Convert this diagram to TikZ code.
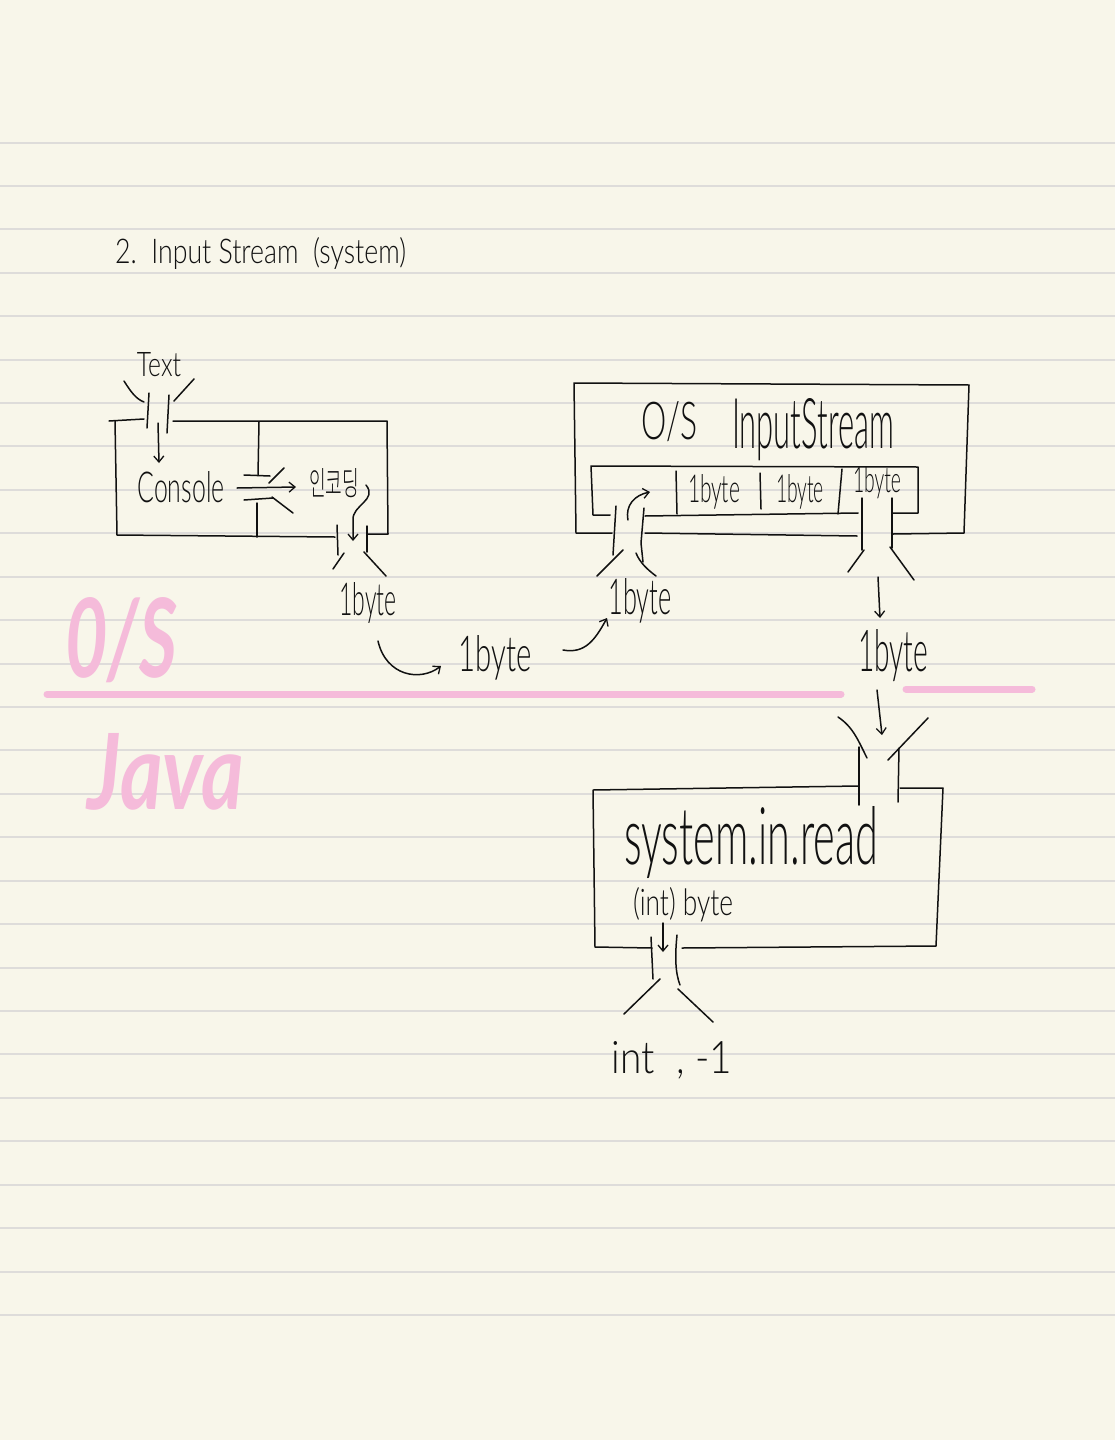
\documentclass[tikz,border=0pt]{standalone}
\usepackage{fontspec}
\usepackage{graphicx}
\usetikzlibrary{arrows.meta}
\setmainfont{Lato Light}
\newfontfamily\cjkfont{Noto Sans CJK KR}[UprightFont={* Light}]
\newfontfamily\pinkfont{Lato}[ItalicFont={Lato Bold Italic}]
\definecolor{paper}{HTML}{F8F6EA}
\definecolor{ruleline}{HTML}{DEDCDA}
\definecolor{marker}{HTML}{F5BBDA}
\definecolor{ink}{HTML}{111111}
\tikzset{
  pen/.style={draw=ink,line width=1.5pt,line cap=round,line join=round},
  arrowpen/.style={pen,-{Straight Barb[length=6pt,width=10pt,line width=1.3pt]}},
  markerline/.style={draw=marker,line width=7pt,line cap=round},
  handtext/.style={inner sep=0pt,outer sep=0pt,text=ink},
  pinktext/.style={inner sep=0pt,outer sep=0pt,text=marker}
}
\newcommand{\fitted}[3]{\resizebox{#1pt}{#2pt}{#3}}
\begin{document}
\begin{tikzpicture}[x=1pt,y=-1pt]
\useasboundingbox (0,0) rectangle (1115,1440);
\fill[paper] (0,0) rectangle (1115,1440);
\foreach \ry in {143,186,229,273,316,360,403,446,490,533,577,620,664,707,750,794,837,881,924,968,1011,1054,1098,1141,1185,1228,1272,1315}
  \draw[ruleline,line width=2pt] (0,\ry) -- (1115,\ry);

% marker
\draw[markerline] (47,694) -- (841,694);
\draw[markerline] (906,689) -- (1032,689);
\node[pinktext] (oslabel) at (121,640) {\fitted{112}{80}{\pinkfont\itshape 0/S}};
\node[pinktext] (javalabel) at (166,772) {\fitted{156}{76}{\pinkfont\itshape Java}};

% title
\node[handtext,anchor=west] (title) at (115,253) {\fitted{291}{26}{2.\ \ Input Stream\ \ (system)}};

% left box
\draw[pen] (109,421) -- (144,419);
\draw[pen] (115,421) -- (117,535) -- (335,537);
\draw[pen] (367,534) -- (388,534) -- (387,421) -- (173,421);
\draw[pen] (259,422) -- (258,475);
\draw[pen] (257,503) -- (257,537);
\draw[pen] (149,393) -- (147,428);
\draw[pen] (169,395) -- (167,433);
\draw[pen] (124,381) .. controls (131,392) and (136,399) .. (144,402);
\draw[pen] (194,379) -- (174,401);
\draw[pen] (244,475) -- (270,476);
\draw[pen] (284,468) -- (269,483);
\draw[pen] (244,500) -- (273,498);
\draw[pen] (272,497) -- (293,513);
\draw[pen] (337,525) -- (338,555);
\draw[pen] (367,526) -- (367,552);
\draw[pen] (344,553) -- (333,569);
\draw[pen] (364,552) -- (386,576);

\node[handtext] (text) at (159,365) {\fitted{44}{24}{Text}};
\node[handtext] (console) at (181,487) {\fitted{87}{31}{Console}};
\node[handtext] (encoding) at (334,483) {\fitted{50}{27}{\cjkfont 인코딩}};
\node[handtext] (byteA) at (368,603) {\fitted{57}{33}{1byte}};

\coordinate (consoleIn) at (158,423);
\coordinate (consoleTop) at (159,463);
\draw[arrowpen] (consoleIn) -- (consoleTop);
\coordinate (gateFrom) at (237,488);
\coordinate (gateTo) at (296,487);
\draw[arrowpen] (gateFrom) -- (gateTo);
\coordinate (encOut) at (366,485);
\coordinate (funnelMid) at (353,541);
\draw[arrowpen] (encOut) .. controls (378,500) and (352,505) .. (353,520) -- (funnelMid);

% transfer
\node[handtext] (byteB) at (495,658) {\fitted{73}{36}{1byte}};
\node[handtext] (byteC) at (640,601) {\fitted{63}{36}{1byte}};
\coordinate (curveA) at (378,641);
\coordinate (curveAend) at (441,666);
\draw[arrowpen] (curveA) .. controls (386,676) and (420,682) .. (curveAend);
\coordinate (curveB) at (563,650);
\coordinate (curveBend) at (607,618);
\draw[arrowpen] (curveB) .. controls (585,654) and (595,640) .. (curveBend);

% right box
\draw[pen] (612,533) -- (576,533) -- (574,383) -- (969,385) -- (964,533) -- (893,534);
\draw[pen] (645,533) -- (857,536);
\draw[pen] (610,515) -- (593,515) -- (591,466) -- (918,467) -- (918,513) -- (893,513);
\draw[pen] (645,516) -- (858,513);
\draw[pen] (676,471) -- (677,514);
\draw[pen] (760,473) -- (761,509);
\draw[pen] (842,469) -- (838,514);
\draw[pen] (616,506) -- (613,555);
\draw[pen] (644,508) -- (641,543) -- (643,562);
\draw[pen] (623,550) -- (597,576);
\draw[pen] (636,553) .. controls (640,563) and (648,570) .. (656,576);
\draw[pen] (862,498) -- (862,550);
\draw[pen] (892,498) -- (892,548);
\draw[pen] (864,550) -- (848,572);
\draw[pen] (890,547) -- (914,580);

\node[handtext] (osA) at (669,422) {\fitted{56}{38}{O/S}};
\node[handtext] (inputstream) at (813,430) {\fitted{162}{50}{InputStream}};
\node[handtext] (cellA) at (714,492) {\fitted{52}{28}{1byte}};
\node[handtext] (cellB) at (800,492) {\fitted{48}{28}{1byte}};
\node[handtext] (cellC) at (877,483) {\fitted{48}{26}{1byte}};
\node[handtext] (byteD) at (893,656) {\fitted{70}{42}{1byte}};

\coordinate (funnelC) at (628,520);
\coordinate (slot) at (650,492);
\draw[arrowpen] (funnelC) .. controls (625,505) and (635,495) .. (slot);
\coordinate (outR) at (878,577);
\coordinate (outRend) at (880,618);
\draw[arrowpen] (outR) -- (outRend);
\coordinate (inS) at (877,690);
\coordinate (inSend) at (882,735);
\draw[arrowpen] (inS) -- (inSend);

% bottom box
\draw[pen] (858,786) -- (593,790) -- (595,947) -- (652,948);
\draw[pen] (900,788) -- (943,788) -- (936,946) -- (682,948);
\draw[pen] (859,747) -- (859,805);
\draw[pen] (899,748) -- (898,802);
\draw[pen] (838,717) .. controls (853,727) and (858,740) .. (867,758);
\draw[pen] (928,718) -- (888,760);
\draw[pen] (651,937) -- (653,979);
\draw[pen] (677,935) .. controls (675,955) and (675,972) .. (680,985);
\draw[pen] (660,979) -- (624,1014);
\draw[pen] (678,989) -- (713,1022);

\node[handtext] (sysread) at (751,843) {\fitted{254}{58}{system.in.read}};
\node[handtext] (intbyte) at (683,905) {\fitted{100}{28}{(int) byte}};
\node[handtext] (result) at (672,1060) {\fitted{120}{32}{int\ \ ,\ -1}};

\coordinate (castA) at (663,923);
\coordinate (castB) at (663,952);
\draw[arrowpen] (castA) -- (castB);
\end{tikzpicture}
\end{document}
